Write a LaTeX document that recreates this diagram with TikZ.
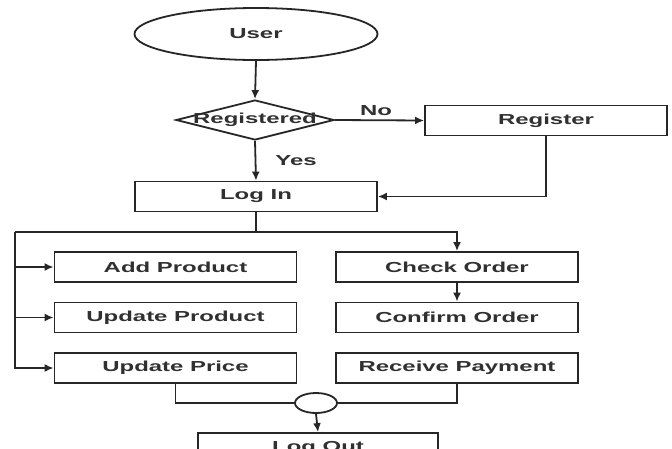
\documentclass[tikz,border=0pt]{standalone}
\usepackage{fontspec}
\setmainfont{Liberation Sans}
\usetikzlibrary{shapes.geometric,arrows.meta}
% wide bold lettering used in every label
\newcommand\wtxt[1]{\scalebox{1.65}[1]{#1}}
\definecolor{ink}{HTML}{262626}
\definecolor{txt}{HTML}{303030}
\tikzset{
  every node/.style={font=\fontsize{14.5}{17}\selectfont\bfseries, text=txt},
  line/.style={draw=ink, line width=1.8pt},
  arr/.style={line, -{Latex[length=9pt,width=8pt]}},
  procbox/.style={rectangle, line, inner sep=0pt, minimum width=242pt, minimum height=30pt},
  startnode/.style={ellipse, line, inner sep=0pt, minimum width=243pt, minimum height=52pt},
  decision/.style={diamond, line, inner sep=0pt, minimum width=158pt, minimum height=40pt},
  joinnode/.style={ellipse, line, inner sep=0pt, minimum width=42pt, minimum height=20pt},
}
\begin{document}
\begin{tikzpicture}[x=1pt, y=-1pt]
  \useasboundingbox (0,0) rectangle (672,448);
  \clip (0,0) rectangle (672,448);
  \fill[white] (0,0) rectangle (672,448);

  % main nodes
  \node[startnode] (user) at (256,34) {\wtxt{User}};
  \node[decision, label={center:\wtxt{Registered}}] (reg) at (255,120) {};
  \node[procbox] (register) at (546,120.5) {\wtxt{Register}};
  \node[procbox] (login) at (256,196.5) {\wtxt{Log In}};

  \node[procbox] (add) at (175.5,267) {\wtxt{Add Product}};
  \node[procbox] (updprod) at (175.5,317.5) {\wtxt{Update Product}};
  \node[procbox] (updprice) at (175.5,368) {\wtxt{Update Price}};

  \node[procbox] (check) at (457,267) {\wtxt{Check Order}};
  \node[procbox] (confirm) at (457,317.5) {\wtxt{Confirm Order}};
  \node[procbox] (receive) at (457,368) {\wtxt{Receive Payment}};

  \node[joinnode] (join) at (316,403) {};
  \node[procbox, minimum width=240pt] (logout) at (318,448) {\wtxt{Log Out}};

  % branch points
  \coordinate (split) at (256,232);
  \coordinate (lft) at (15,232);

  % connectors
  \draw[arr] (user.south) -- (reg.north);
  \draw[arr] (reg.east) -- (register.west);
  \node (no) at (376,111) {\wtxt{No}};
  \draw[arr] (reg.south) -- (login.north);
  \node (yes) at (296,161) {\wtxt{Yes}};
  \draw[arr] (register.south) |- (login.east);

  \draw[line] (login.south) -- (split);
  \draw[arr] (lft) -| (check.north);
  \draw[arr] (lft) |- (updprice.west);
  \draw[arr] (lft |- add.west) -- (add.west);
  \draw[arr] (lft |- updprod.west) -- (updprod.west);
  \draw[arr] (check.south) -- (confirm.north);

  \draw[line] (updprice.south) |- (join.west);
  \draw[line] (receive.south) |- (join.east);
  \draw[arr] (join.south) -- (logout.north);
\end{tikzpicture}
\end{document}
